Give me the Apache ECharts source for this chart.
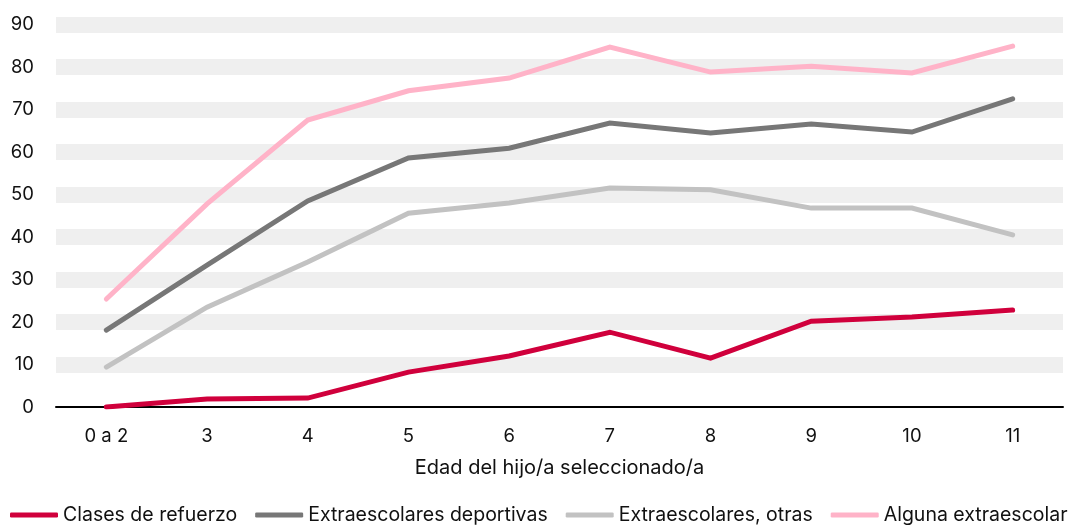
<!DOCTYPE html>
<html>
<head>
<meta charset="utf-8">
<script src="https://cdn.jsdelivr.net/npm/echarts@6/dist/echarts.min.js"></script>
<style>html,body{margin:0;padding:0;background:#fff}#c{width:1069px;height:525px}</style>
</head>
<body>
<div id="c"></div>
<script>
const categories = ['0 a 2','3','4','5','6','7','8','9','10','11'];
const refuerzo   = [0, 1.9, 2.1, 8.2, 12.0, 17.6, 11.5, 20.2, 21.2, 22.8];
const deportivas = [18.1, 33.4, 48.5, 58.6, 60.9, 66.8, 64.5, 66.6, 64.7, 72.5];
const otras      = [9.4, 23.5, 34.1, 45.6, 48.0, 51.5, 51.1, 46.8, 46.8, 40.5];
const alguna     = [25.4, 47.8, 67.5, 74.4, 77.4, 84.7, 78.8, 80.2, 78.6, 84.9];
const seriesNames = ['Clases de refuerzo','Extraescolares deportivas','Extraescolares, otras','Alguna extraescolar'];
const colors = ['#d0003c','#777777','#c2c2c2','#ffb3c8'];
const font = 'Inter, "Noto Sans", sans-serif';

const chart = echarts.init(document.getElementById('c'));
const data = [refuerzo, deportivas, otras, alguna];
chart.setOption({
  animation: false,
  color: colors,
  grid: { left: 56, right: 6, top: 24.5, bottom: 118, containLabel: false },
  legend: {
    left: 10, top: 505, width: 1200, padding: 0,
    icon: 'roundRect', itemWidth: 48, itemHeight: 5, itemGap: 18,
    textStyle: { fontFamily: font, fontSize: 19.5, color: '#111' },
    data: seriesNames
  },
  xAxis: {
    type: 'category', data: categories, boundaryGap: true,
    name: 'Edad del hijo/a seleccionado/a', nameLocation: 'middle', nameGap: 51,
    nameTextStyle: { fontFamily: font, fontSize: 20, color: '#111' },
    axisLine: { lineStyle: { color: '#000', width: 2 } },
    axisTick: { show: false },
    axisLabel: { fontFamily: font, fontSize: 18.5, color: '#111', margin: 20 }
  },
  yAxis: {
    type: 'value', min: 0, max: 90, interval: 10,
    axisLine: { show: false }, axisTick: { show: false },
    axisLabel: { fontFamily: font, fontSize: 18.5, color: '#111', margin: 22 },
    splitLine: { show: true, showMinLine: false, lineStyle: { color: '#efefef', width: 16 } }
  },
  series: data.map((d, i) => ({
    name: seriesNames[i], type: 'line', data: d,
    symbol: 'none', lineStyle: { width: 5, cap: 'round', join: 'miter' },
    z: 3 + i
  }))
});
</script>
</body>
</html>
